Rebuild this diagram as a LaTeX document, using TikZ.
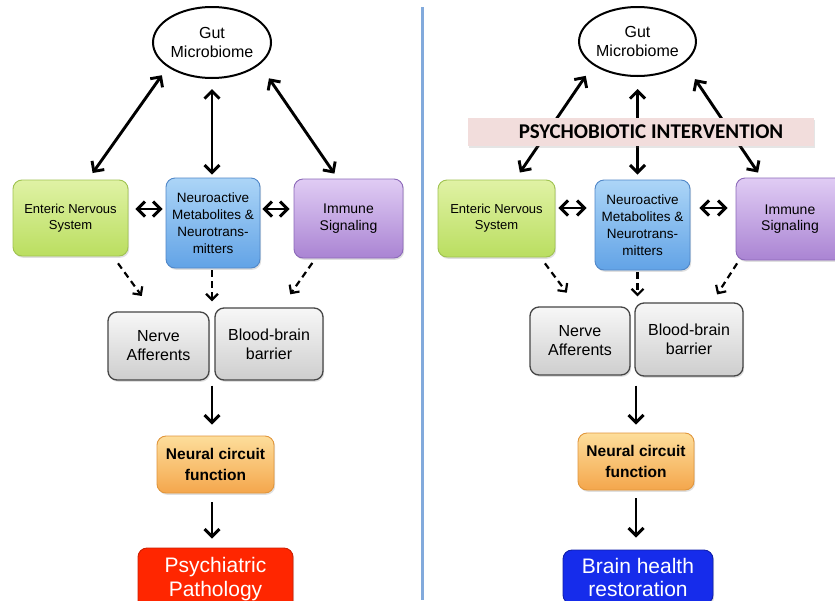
\documentclass[tikz,border=0pt]{standalone}
\usepackage{fontspec}
\setmainfont{Liberation Sans}
\newfontfamily\banfont{Carlito}
\usetikzlibrary{arrows.meta,calc,shadows,shapes.geometric}
\definecolor{ensT}{RGB}{224,242,165}
\definecolor{ensB}{RGB}{186,222,96}
\definecolor{ensD}{RGB}{160,195,80}
\definecolor{neuT}{RGB}{172,213,247}
\definecolor{neuB}{RGB}{98,163,230}
\definecolor{neuD}{RGB}{80,135,200}
\definecolor{immT}{RGB}{224,204,244}
\definecolor{immB}{RGB}{170,132,211}
\definecolor{immD}{RGB}{140,105,185}
\definecolor{gryT}{RGB}{247,247,247}
\definecolor{gryB}{RGB}{206,206,206}
\definecolor{gryD}{RGB}{70,70,70}
\definecolor{orgT}{RGB}{253,222,155}
\definecolor{orgB}{RGB}{244,166,76}
\definecolor{orgD}{RGB}{225,150,60}
\definecolor{redF}{RGB}{255,38,0}
\definecolor{redD}{RGB}{205,30,0}
\definecolor{bluF}{RGB}{22,44,235}
\definecolor{bluD}{RGB}{15,30,170}
\definecolor{banF}{RGB}{242,221,220}
\definecolor{sepC}{RGB}{130,170,220}
\begin{document}
\begin{tikzpicture}[x=1pt,y=-1pt,
  tipbig/.tip={Straight Barb[length=7.5pt,width=15pt]},
  tipsmall/.tip={Straight Barb[length=6pt,width=12pt]},
  ar/.style={line width=2.9pt,-tipbig},
  dar/.style={line width=2.9pt,tipbig-tipbig},
  dashar/.style={line width=2.2pt,dash pattern=on 6.5pt off 4.5pt,-tipsmall},
  gutell/.style={ellipse,draw,line width=2pt,fill=white,inner sep=0pt,align=center,
    font=\fontsize{16}{19}\selectfont},
  bx/.style={rounded corners=9pt,draw,line width=0.9pt,inner sep=0pt,align=center,
    drop shadow={opacity=0.25,shadow xshift=1.2pt,shadow yshift=-1.8pt}},
  ensbox/.style={bx,top color=ensT,bottom color=ensB,draw=ensD,font=\fontsize{13}{16}\selectfont},
  neubox/.style={bx,top color=neuT,bottom color=neuB,draw=neuD,font=\fontsize{13.5}{17}\selectfont},
  immbox/.style={bx,top color=immT,bottom color=immB,draw=immD,font=\fontsize{14}{16.5}\selectfont},
  grybox/.style={bx,top color=gryT,bottom color=gryB,draw=gryD,line width=1.3pt,font=\fontsize{16}{19}\selectfont},
  orgbox/.style={bx,top color=orgT,bottom color=orgB,draw=orgD,font=\bfseries\fontsize{15.5}{21}\selectfont},
  redbox/.style={bx,fill=redF,draw=redD,text=white,font=\fontsize{21}{24}\selectfont},
  blubox/.style={bx,fill=bluF,draw=bluD,text=white,font=\fontsize{21}{23}\selectfont},
  banbox/.style={fill=banF,inner sep=0pt,drop shadow={opacity=0.2,shadow xshift=1pt,shadow yshift=-1.5pt},
    font=\banfont\bfseries\fontsize{21}{24}\selectfont}
]
\useasboundingbox (0,0) rectangle (835,600);
\clip (0,0) rectangle (835,600);
\fill[white] (0,0) rectangle (835,600);

% separator
\draw[line width=3pt,sepC] (422,7) -- (422,600);

% ---------------- left panel ----------------
\node[gutell,minimum width=118pt,minimum height=71pt] (gut) at (212,42.5) {Gut\\Microbiome};
\node[ensbox,minimum width=115pt,minimum height=76pt] (ens) at (70.5,218) {Enteric Nervous\\System};
\node[neubox,minimum width=94pt,minimum height=90pt] (neu) at (213,223) {Neuroactive\\Metabolites \&\\Neurotrans-\\mitters};
\node[immbox,minimum width=109pt,minimum height=79pt] (imm) at (348.5,218.5) {Immune\\Signaling};
\node[grybox,minimum width=101pt,minimum height=68pt] (ner) at (158.5,346) {Nerve\\Afferents};
\node[grybox,minimum width=108pt,minimum height=72pt] (bbb) at (269,344) {Blood-brain\\barrier};
\node[orgbox,minimum width=117pt,minimum height=57pt] (neural) at (215.5,464.5) {Neural circuit\\function};
\node[redbox,minimum width=155pt,minimum height=62pt] (psy) at (215.5,579) {Psychiatric\\Pathology};

\draw[dar,shorten <=10pt,shorten >=8pt] (gut.209) -- ($(ens.north)+(17.5,0)$);
\draw[dar,shorten <=10pt,shorten >=3pt] (gut.south) -- (gut.south |- neu.north);
\draw[dar,shorten <=16.5pt,shorten >=6pt] (gut.335) -- ($(imm.north)+(-10.7,0)$);

\draw[dar,shorten <=7pt,shorten >=3pt] ($(ens.east)+(0,-9)$) -- ($(neu.west)+(0,-14)$);
\draw[dar,shorten <=2pt,shorten >=4pt] ($(neu.east)+(0,-14)$) -- ($(imm.west)+(0,-9.5)$);

\coordinate (j1) at ($(ner.north east)!0.5!(bbb.north west)$);
\coordinate (k1) at ($(ner.south east)!0.5!(bbb.south west)$);
\draw[dashar,shorten <=8.5pt,shorten >=19pt] ($(ens.south)+(42.5,0)$) -- ($(ner.north)+(-5.5,0)$);
\draw[dashar,shorten <=2pt,shorten >=8pt] (neu.south -| j1) -- (j1);
\draw[dashar,shorten <=5.5pt,shorten >=16pt] ($(imm.south)+(-33,0)$) -- ($(bbb.north)+(12,0)$);

\draw[ar,shorten <=5pt,shorten >=11pt] (k1) -- (k1 |- neural.north);
\draw[ar,shorten <=9pt,shorten >=9pt] (neural.south -| k1) -- (k1 |- psy.north);

% ---------------- right panel ----------------
\node[gutell,minimum width=112pt,minimum height=69pt] (gut2) at (637.5,41.5) {Gut\\Microbiome};
\node[ensbox,minimum width=117pt,minimum height=77pt] (ens2) at (496.5,218.5) {Enteric Nervous\\System};
\node[neubox,minimum width=95pt,minimum height=90pt] (neu2) at (642.5,225) {Neuroactive\\Metabolites \&\\Neurotrans-\\mitters};
\node[immbox,minimum width=108pt,minimum height=82pt] (imm2) at (790,219) {Immune\\Signaling};
\node[grybox,minimum width=100pt,minimum height=68pt] (ner2) at (580,341) {Nerve\\Afferents};
\node[grybox,minimum width=108pt,minimum height=73pt] (bbb2) at (689,339.5) {Blood-brain\\barrier};
\node[orgbox,minimum width=116pt,minimum height=57pt] (neural2) at (636,461.5) {Neural circuit\\function};
\node[blubox,minimum width=150pt,minimum height=54pt] (brain) at (638,577) {Brain health\\restoration};

\draw[dar,shorten <=13pt,shorten >=8.5pt] (gut2.208) -- ($(ens2.north)+(18.6,0)$);
\draw[dar,shorten <=12pt,shorten >=5pt] (gut2.south) -- (gut2.south |- neu2.north);
\draw[dar,shorten <=19pt,shorten >=6pt] (gut2.335) -- ($(imm2.north)+(-28.6,0)$);

\node[banbox,minimum width=346pt,minimum height=28pt] (ban) at (641,132) {\hspace*{20pt}PSYCHOBIOTIC INTERVENTION};

\draw[dar,shorten <=3pt,shorten >=8pt] ($(ens2.east)+(0,-10.5)$) -- ($(neu2.west)+(0,-17)$);
\draw[dar,shorten <=9pt,shorten >=8pt] ($(neu2.east)+(0,-17)$) -- ($(imm2.west)+(0,-11)$);

\coordinate (j2) at ($(ner2.north east)!0.5!(bbb2.north west)$);
\coordinate (k2) at ($(ner2.south east)!0.5!(bbb2.south west)$);
\draw[dashar,shorten <=7.4pt,shorten >=17pt] ($(ens2.south)+(44,0)$) -- ($(ner2.north)+(-3,0)$);
\draw[dashar,shorten <=2pt,shorten >=8pt] (neu2.south -| gut2.south) -- (j2 -| gut2.south);
\draw[dashar,shorten <=3.5pt,shorten >=9.4pt] ($(imm2.south)+(-51,0)$) -- ($(bbb2.north)+(23,0)$);

\draw[ar,shorten <=9.5pt,shorten >=8pt] (k2 -| neural2.north) -- (neural2.north);
\draw[ar,shorten <=8pt,shorten >=12pt] (neural2.south) -- (neural2.south |- brain.north);
\end{tikzpicture}
\end{document}
